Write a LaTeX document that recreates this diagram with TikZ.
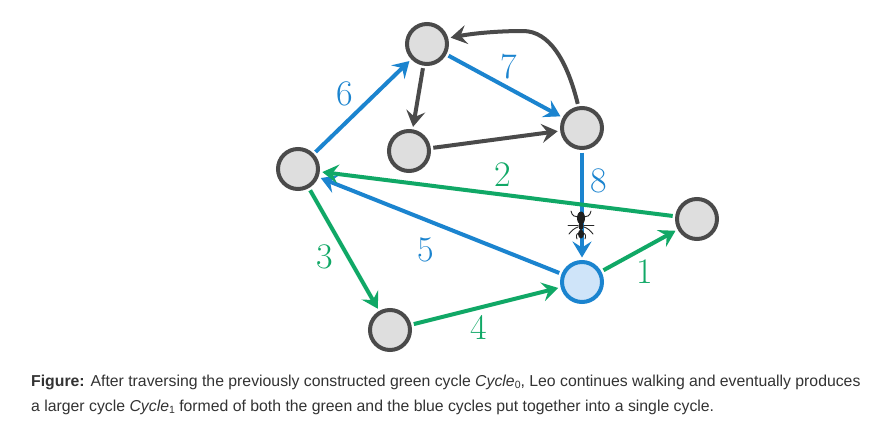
\documentclass[tikz,border=0pt]{standalone}
\usepackage{fontspec}
\usetikzlibrary{arrows.meta}
\newfontfamily\capfont{Liberation Sans}
\definecolor{cblue}{HTML}{1B84CF}
\definecolor{cgreen}{HTML}{10A866}
\definecolor{cdark}{HTML}{4A4A4A}
\definecolor{cfill}{HTML}{DEDEDE}
\definecolor{cbfill}{HTML}{CFE4F9}
\definecolor{ctext}{HTML}{333333}
\newcommand{\capsub}[1]{\raisebox{-2.5pt}{\fontsize{10.5}{10.5}\selectfont #1}}
\tikzset{
 vertex/.style={circle,draw=cdark,fill=cfill,line width=4pt,minimum size=40pt,inner sep=0pt,outer sep=4.5pt},
 active/.style={vertex,draw=cblue,fill=cbfill},
 edge/.style={line width=4pt,-{Stealth[length=16pt,width=19pt,inset=6pt]}},
 blueedge/.style={edge,cblue},
 greenedge/.style={edge,cgreen},
 darkedge/.style={edge,cdark},
 numlabel/.style={font=\fontsize{36}{36}\selectfont,inner sep=0pt},
 caption/.style={font=\capfont\fontsize{15.8}{24}\selectfont,text=ctext,anchor=west,inner sep=0pt},
 antleg/.style={black!85,line width=.9pt,line cap=round}
}
\begin{document}
\begin{tikzpicture}[x=1pt,y=-1pt]
\useasboundingbox[fill=white] (0,0) rectangle (872,426);
\node[vertex] (A) at (427,44) {};
\node[vertex] (B) at (409,151) {};
\node[vertex] (C) at (582,128) {};
\node[vertex] (D) at (298,169) {};
\node[vertex] (E) at (697,219) {};
\node[active] (F) at (582,282) {};
\node[vertex] (G) at (390,330) {};
\draw[blueedge] (D) -- (A);
\draw[blueedge] (A) -- (C);
\draw[blueedge] (C) -- (F);
\draw[blueedge] (F) -- (D);
\draw[greenedge] (D) -- (G);
\draw[greenedge] (G) -- (F);
\draw[greenedge] (F) -- (E);
\draw[greenedge] (E) -- (D);
\draw[darkedge] (A) -- (B);
\draw[darkedge] (B) -- (C);
\draw[darkedge] (C.100) .. controls (567,60) and (549,31) .. (523,31) .. controls (500,31) and (475,33) .. (A.15);
\node[numlabel,text=cblue] (n6) at (345,94) {6};
\node[numlabel,text=cblue] (n7) at (509,67) {7};
\node[numlabel,text=cblue] (n8) at (599,181) {8};
\node[numlabel,text=cblue] (n5) at (426,250) {5};
\node[numlabel,text=cgreen] (n1) at (645,272) {1};
\node[numlabel,text=cgreen] (n2) at (503,175) {2};
\node[numlabel,text=cgreen] (n3) at (325,257) {3};
\node[numlabel,text=cgreen] (n4) at (479,327) {4};
% ant
\begin{scope}[shift={(581,225)}]
\draw[antleg] (-3,-8) .. controls (-6,-8) and (-9,-9) .. (-10,-14);
\draw[antleg] (3,-8) .. controls (6,-8) and (9,-9) .. (10,-14);
\draw[antleg] (-3,0) -- (-13,0);
\draw[antleg] (3,0) -- (13,0);
\draw[antleg] (-3,2) .. controls (-6,3) and (-9,5) .. (-12,9);
\draw[antleg] (3,2) .. controls (6,3) and (9,5) .. (12,9);
\draw[antleg] (-2,8) .. controls (-5,9) and (-5,11) .. (-4,14);
\draw[antleg] (2,8) .. controls (5,9) and (5,11) .. (4,14);
\fill[black!88] (0,-7) ellipse (4pt and 6.5pt);
\fill[black!88] (0,1) ellipse (2.5pt and 4pt);
\fill[black!88] (0,9) ellipse (3pt and 4.5pt);
\end{scope}
\node[caption] (c1) at (31,382) {\textbf{Figure:} After traversing the previously constructed green cycle \textit{Cycle}\capsub{0}, Leo continues walking and eventually produces};
\node[caption] (c2) at (31,407) {a larger cycle \textit{Cycle}\capsub{1} formed of both the green and the blue cycles put together into a single cycle.};
\end{tikzpicture}
\end{document}
